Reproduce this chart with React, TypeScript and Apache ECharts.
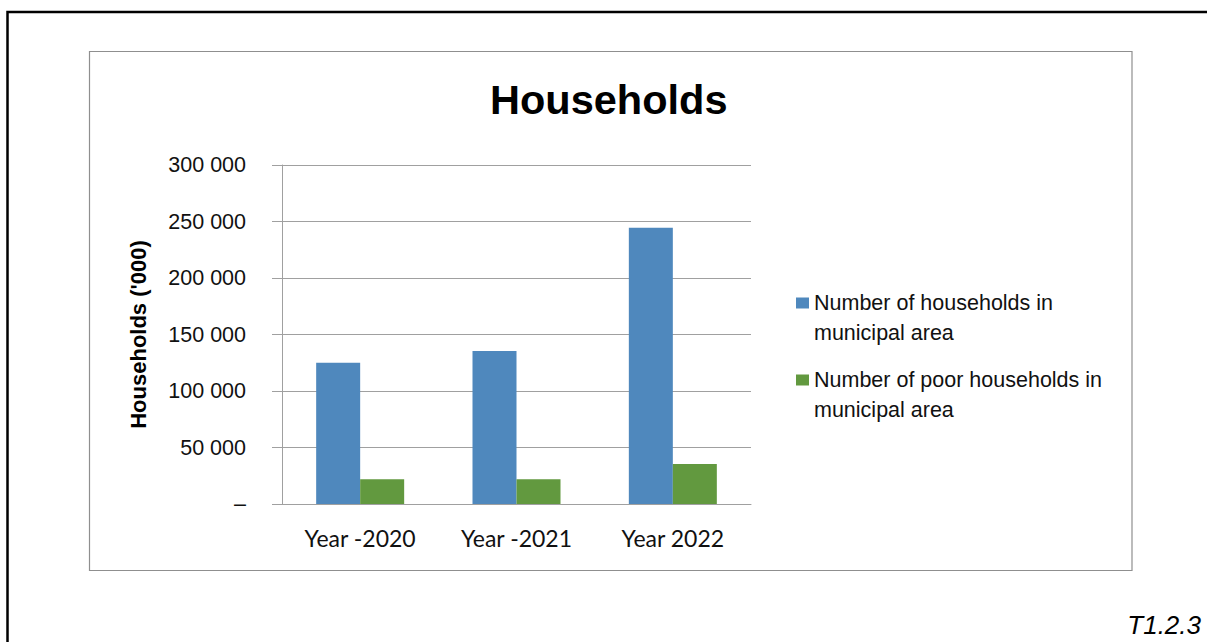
import React, { useEffect, useRef } from "react";
import * as echarts from "echarts";

const categories = ["Year -2020", "Year -2021", "Year 2022"];
const totalHouseholds = [125000, 135500, 244500];
const poorHouseholds = [22000, 22000, 35500];
const seriesNames = [
  "Number of households in municipal area",
  "Number of poor households in municipal area",
];
const legendLines: Record<string, string> = {
  "Number of households in municipal area": "Number of households in\nmunicipal area",
  "Number of poor households in municipal area": "Number of poor households in\nmunicipal area",
};
const yTicks = { min: 0, max: 300000, interval: 50000 };

const fmt = (v: number) => {
  if (v === 0) return "–";
  return String(v).replace(/\B(?=(\d{3})+(?!\d))/g, " ");
};

export default function App() {
  const ref = useRef<HTMLDivElement>(null);
  useEffect(() => {
    if (!ref.current) return;
    const chart = echarts.init(ref.current, null, { renderer: "svg" });
    const sans = "Liberation Sans, Arial, sans-serif";
    const legendCommon = {
      orient: "vertical",
      left: 791,
      icon: "rect",
      itemWidth: 13,
      itemHeight: 11,
      selectedMode: false,
      formatter: (name: string) => "\n" + legendLines[name],
      textStyle: { fontFamily: sans, fontSize: 21.5, lineHeight: 30, color: "#111" },
    };
    chart.setOption({
      animation: false,
      backgroundColor: "#fff",
      title: {
        text: "Households",
        left: 485,
        top: 73,
        textStyle: { fontFamily: sans, fontSize: 41.5, fontWeight: "bold", color: "#000" },
      },
      legend: [
        { ...legendCommon, top: 253, data: [seriesNames[0]] },
        { ...legendCommon, top: 330, data: [seriesNames[1]] },
      ],
      grid: { left: 282, right: 456, top: 165, bottom: 138, containLabel: false },
      xAxis: {
        type: "category",
        data: categories,
        axisLine: { lineStyle: { color: "#a0a0a0", width: 1 } },
        axisTick: { show: false },
        axisLabel: {
          margin: 22,
          fontFamily: "Lato, Open Sans, sans-serif",
          fontSize: 23,
          color: "#111",
        },
      },
      yAxis: {
        type: "value",
        min: yTicks.min,
        max: yTicks.max,
        interval: yTicks.interval,
        name: "Households ('000)",
        nameLocation: "middle",
        nameRotate: 90,
        nameGap: 133,
        nameTextStyle: { fontFamily: sans, fontSize: 22, fontWeight: "bold", color: "#000" },
        axisLine: { show: true, lineStyle: { color: "#a0a0a0", width: 1 } },
        axisTick: { show: true, length: 10, lineStyle: { color: "#a0a0a0" } },
        splitLine: { lineStyle: { color: "#a0a0a0", width: 1 } },
        axisLabel: {
          margin: 36,
          formatter: fmt,
          fontFamily: sans,
          fontSize: 21.5,
          color: "#111",
        },
      },
      series: [
        {
          name: seriesNames[0],
          type: "bar",
          data: totalHouseholds,
          barWidth: 44,
          barGap: "0%",
          itemStyle: { color: "#4F88BD" },
        },
        {
          name: seriesNames[1],
          type: "bar",
          data: poorHouseholds,
          barWidth: 44,
          itemStyle: { color: "#62993F" },
        },
      ],
      graphic: [
        {
          type: "rect",
          silent: true,
          shape: { x: 7.5, y: 12, width: 1400, height: 900 },
          style: { fill: "none", stroke: "#000", lineWidth: 2.5 },
        },
        {
          type: "rect",
          silent: true,
          shape: { x: 89.5, y: 51.5, width: 1042.5, height: 519 },
          style: { fill: "none", stroke: "#8f8f8f", lineWidth: 1.2 },
        },
        {
          type: "text",
          right: 6,
          top: 612,
          style: {
            text: "T1.2.3",
            fontFamily: sans,
            fontSize: 26,
            fontStyle: "italic",
            fill: "#000",
          },
        },
      ],
    });
    return () => chart.dispose();
  }, []);
  return (
    <div
      ref={ref}
      style={{ position: "absolute", left: 0, top: 0, width: 1207, height: 642 }}
    />
  );
}
